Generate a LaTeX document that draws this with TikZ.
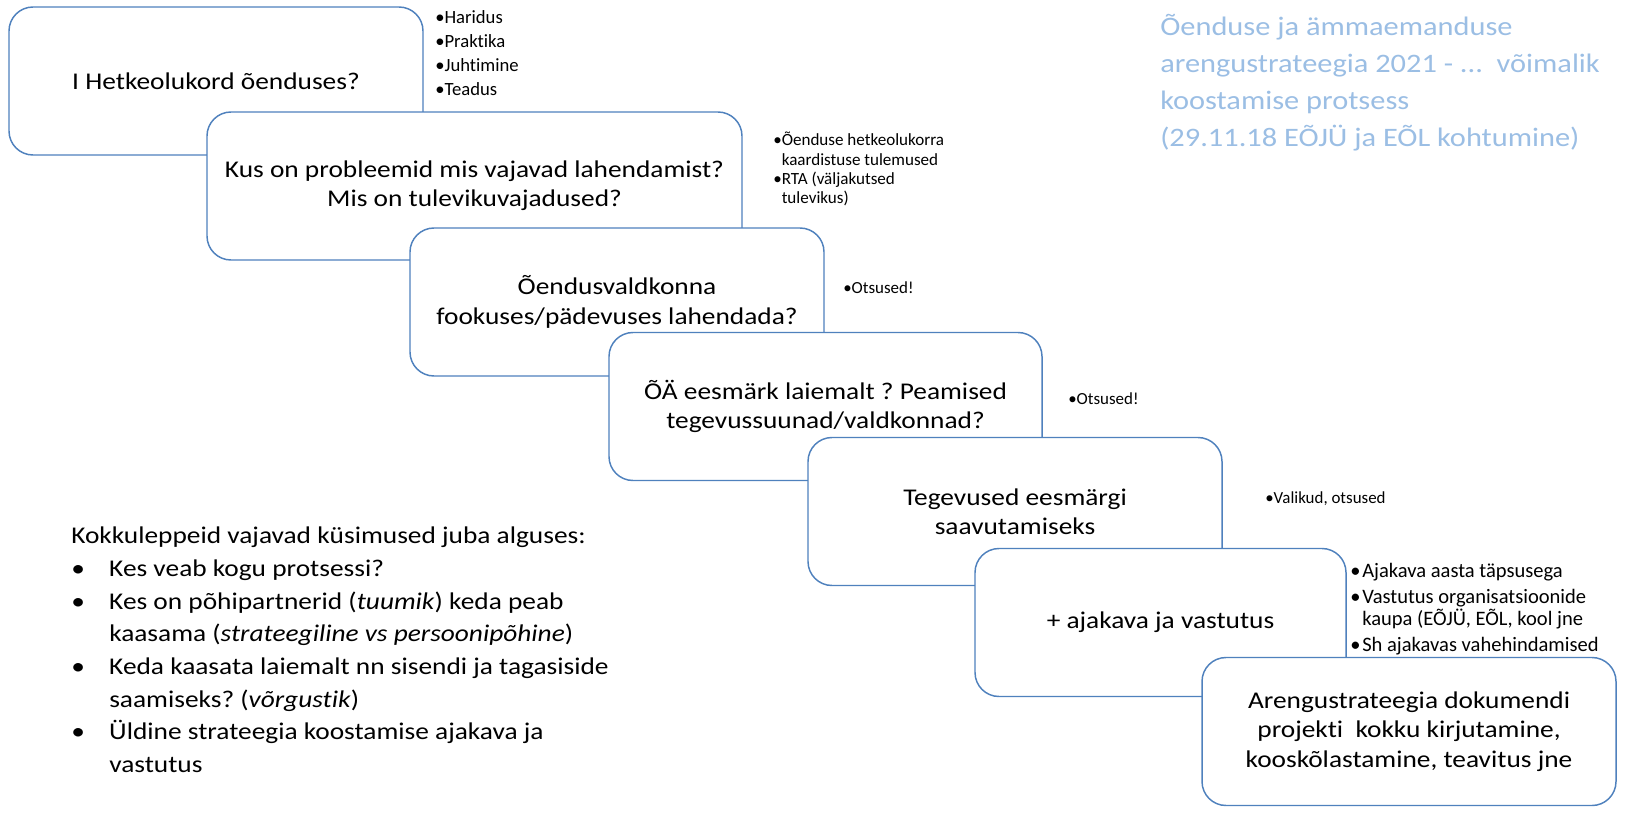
\documentclass[tikz,border=0pt]{standalone}
\usepackage{fontspec}
\setmainfont{Carlito}[Ligatures=CommonOff]
\newfontfamily\widefont{Carlito}[FakeStretch=1.14, Ligatures=CommonOff]
\definecolor{boxline}{RGB}{79,129,189}
\definecolor{titleblue}{RGB}{155,190,228}
\newcommand{\bl}{\makebox[28.5pt][l]{•}}
\newcommand{\ind}{\hspace*{28.5pt}}
\newcommand{\pb}{\phantom{•}}
\frenchspacing

\begin{document}
\begin{tikzpicture}[x=0.75pt, y=-0.75pt,
    stepbox/.style={draw=boxline, fill=white, line width=1.1pt, rounded corners=18pt,
        align=center, inner sep=0pt, minimum height=111pt, font=\widefont\fontsize{18}{22}\selectfont},
    sidenote/.style={anchor=north west, align=left, inner sep=0pt},
    shortnote/.style={anchor=west, inner sep=0pt, font=\fontsize{12.7}{14.5}\selectfont}]

    \useasboundingbox (0,0) rectangle (1633,835);

    % staircase of steps
    \node [stepbox, minimum width=310.5pt] (hetke) at (216,81) {I Hetkeolukord õenduses?};
    \node [stepbox, minimum width=401.25pt] (probleem) at (474.5,186) {Kus on probleemid mis vajavad lahendamist?\\Mis on tulevikuvajadused?};
    \node [stepbox, minimum width=310.5pt] (fookus) at (617,302) {Õendusvaldkonna\\fookuses/pädevuses lahendada?};
    \node [stepbox, minimum width=324.75pt] (eesmark) at (825.5,406.5) {ÕÄ eesmärk laiemalt ? Peamised\\tegevussuunad/valdkonnad?};
    \node [stepbox, minimum width=310.5pt] (tegevus) at (1015,511.5) {Tegevused eesmärgi\\saavutamiseks};
    \node [stepbox, minimum width=278.25pt] (ajakava) at (1160.5,622.5) {+ ajakava ja vastutus};
    \node [stepbox, minimum width=310.5pt] (dokument) at (1409,731.5) {Arengustrateegia dokumendi\\projekti\ \ kokku kirjutamine,\\kooskõlastamine, teavitus jne};

    % notes beside the steps
    \node [sidenote, font=\fontsize{14}{18}\selectfont] (valdkonnad) at (435,10) {•Haridus\\•Praktika\\•Juhtimine\\•Teadus};
    \node [sidenote, font=\fontsize{12.8}{14.5}\selectfont] (sisend) at (773,132) {•Õenduse hetkeolukorra\\\pb kaardistuse tulemused\\•RTA (väljakutsed\\\pb tulevikus)};
    \node [shortnote] (otsused1) at (843,288) {•Otsused!};
    \node [shortnote] (otsused2) at (1068,399) {•Otsused!};
    \node [shortnote] (valikud) at (1265,499) {•Valikud, otsused};
    \node [sidenote, font=\fontsize{15.4}{16.5}\selectfont] (vastutus) at (1350,563)
        {\makebox[9pt][l]{•}Ajakava aasta täpsusega\\[3pt]
         \makebox[9pt][l]{•}Vastutus organisatsioonide\\
         \hspace*{9pt}kaupa (EÕJÜ, EÕL, kool jne\\[3pt]
         \makebox[9pt][l]{•}Sh ajakavas vahehindamised};

    % title
    \node [sidenote, text=titleblue, font=\widefont\fontsize{20}{27.75}\selectfont] (pealkiri) at (1160,14)
        {Õenduse ja ämmaemanduse\\arengustrateegia 2021 - ...\ \ võimalik\\koostamise protsess\\(29.11.18 EÕJÜ ja EÕL kohtumine)};

    % questions
    \node [sidenote, font=\widefont\fontsize{18}{24.5}\selectfont] (kusimused) at (71,527)
        {Kokkuleppeid vajavad küsimused juba alguses:\\
         \bl Kes veab kogu protsessi?\\
         \bl Kes on põhipartnerid (\textit{tuumik}) keda peab\\
         \ind kaasama (\textit{strateegiline vs persoonipõhine})\\
         \bl Keda kaasata laiemalt nn sisendi ja tagasiside\\
         \ind saamiseks? (\textit{võrgustik})\\
         \bl Üldine strateegia koostamise ajakava ja\\
         \ind vastutus};

\end{tikzpicture}
\end{document}
